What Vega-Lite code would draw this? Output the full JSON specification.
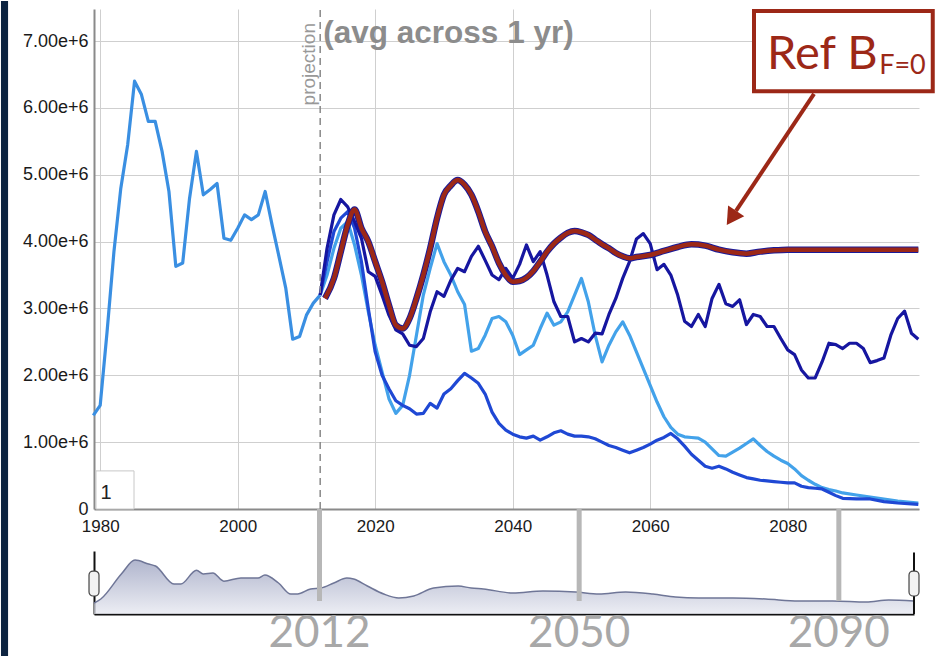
{
  "$schema": "https://vega.github.io/schema/vega-lite/v6.json",
  "padding": {"left": 0, "top": 0, "right": 0, "bottom": 0},
  "background": "white",
  "bounds": "flush",
  "spacing": 42,
  "config": {"view": {"stroke": null}, "font": "Liberation Sans"},
  "datasets": {
    "one": [{}],
    "proj": [
      {"s":"1hist","yr":1979,"v":1.40},{"s":"1hist","yr":1980,"v":1.55},{"s":"1hist","yr":1981,"v":2.65},{"s":"1hist","yr":1982,"v":3.85},{"s":"1hist","yr":1983,"v":4.8},{"s":"1hist","yr":1984,"v":5.45},{"s":"1hist","yr":1985,"v":6.4},{"s":"1hist","yr":1986,"v":6.2},{"s":"1hist","yr":1987,"v":5.8},{"s":"1hist","yr":1988,"v":5.8},{"s":"1hist","yr":1989,"v":5.35},{"s":"1hist","yr":1990,"v":4.75},{"s":"1hist","yr":1991,"v":3.63},{"s":"1hist","yr":1992,"v":3.68},{"s":"1hist","yr":1993,"v":4.65},{"s":"1hist","yr":1994,"v":5.35},{"s":"1hist","yr":1995,"v":4.7},{"s":"1hist","yr":1996,"v":4.78},{"s":"1hist","yr":1997,"v":4.87},{"s":"1hist","yr":1998,"v":4.05},{"s":"1hist","yr":1999,"v":4.02},{"s":"1hist","yr":2000,"v":4.2},{"s":"1hist","yr":2001,"v":4.4},{"s":"1hist","yr":2002,"v":4.33},{"s":"1hist","yr":2003,"v":4.4},{"s":"1hist","yr":2004,"v":4.75},{"s":"1hist","yr":2005,"v":4.25},{"s":"1hist","yr":2006,"v":3.78},{"s":"1hist","yr":2007,"v":3.3},{"s":"1hist","yr":2008,"v":2.54},{"s":"1hist","yr":2009,"v":2.58},{"s":"1hist","yr":2010,"v":2.9},{"s":"1hist","yr":2011,"v":3.08},{"s":"1hist","yr":2012,"v":3.2},

      {"s":"2light","yr":2012,"v":3.2},{"s":"2light","yr":2013,"v":3.5},{"s":"2light","yr":2014,"v":3.9},{"s":"2light","yr":2015,"v":4.2},{"s":"2light","yr":2016,"v":4.3},{"s":"2light","yr":2017,"v":3.95},{"s":"2light","yr":2018,"v":3.5},{"s":"2light","yr":2019,"v":2.95},{"s":"2light","yr":2020,"v":2.45},{"s":"2light","yr":2021,"v":2.05},{"s":"2light","yr":2022,"v":1.65},{"s":"2light","yr":2023,"v":1.43},{"s":"2light","yr":2024,"v":1.55},{"s":"2light","yr":2025,"v":2.0},{"s":"2light","yr":2026,"v":2.6},{"s":"2light","yr":2027,"v":3.2},{"s":"2light","yr":2028,"v":3.6},{"s":"2light","yr":2029,"v":3.97},{"s":"2light","yr":2030,"v":3.7},{"s":"2light","yr":2031,"v":3.5},{"s":"2light","yr":2032,"v":3.25},{"s":"2light","yr":2033,"v":3.06},{"s":"2light","yr":2034,"v":2.36},{"s":"2light","yr":2035,"v":2.4},{"s":"2light","yr":2036,"v":2.6},{"s":"2light","yr":2037,"v":2.85},{"s":"2light","yr":2038,"v":2.88},{"s":"2light","yr":2039,"v":2.8},{"s":"2light","yr":2040,"v":2.6},{"s":"2light","yr":2041,"v":2.31},{"s":"2light","yr":2042,"v":2.38},{"s":"2light","yr":2043,"v":2.45},{"s":"2light","yr":2044,"v":2.7},{"s":"2light","yr":2045,"v":2.93},{"s":"2light","yr":2046,"v":2.75},{"s":"2light","yr":2047,"v":2.8},{"s":"2light","yr":2048,"v":2.95},{"s":"2light","yr":2049,"v":3.2},{"s":"2light","yr":2050,"v":3.45},{"s":"2light","yr":2051,"v":3.1},{"s":"2light","yr":2052,"v":2.6},{"s":"2light","yr":2053,"v":2.2},{"s":"2light","yr":2054,"v":2.45},{"s":"2light","yr":2055,"v":2.65},{"s":"2light","yr":2056,"v":2.8},{"s":"2light","yr":2057,"v":2.6},{"s":"2light","yr":2058,"v":2.35},{"s":"2light","yr":2059,"v":2.1},{"s":"2light","yr":2060,"v":1.85},{"s":"2light","yr":2061,"v":1.6},{"s":"2light","yr":2062,"v":1.38},{"s":"2light","yr":2063,"v":1.22},{"s":"2light","yr":2064,"v":1.12},{"s":"2light","yr":2065,"v":1.08},{"s":"2light","yr":2066,"v":1.07},{"s":"2light","yr":2067,"v":1.06},{"s":"2light","yr":2068,"v":1.0},{"s":"2light","yr":2069,"v":0.9},{"s":"2light","yr":2070,"v":0.8},{"s":"2light","yr":2071,"v":0.79},{"s":"2light","yr":2072,"v":0.85},{"s":"2light","yr":2073,"v":0.91},{"s":"2light","yr":2074,"v":0.98},{"s":"2light","yr":2075,"v":1.05},{"s":"2light","yr":2076,"v":0.95},{"s":"2light","yr":2077,"v":0.86},{"s":"2light","yr":2078,"v":0.79},{"s":"2light","yr":2079,"v":0.73},{"s":"2light","yr":2080,"v":0.68},{"s":"2light","yr":2081,"v":0.6},{"s":"2light","yr":2082,"v":0.5},{"s":"2light","yr":2083,"v":0.43},{"s":"2light","yr":2084,"v":0.37},{"s":"2light","yr":2085,"v":0.32},{"s":"2light","yr":2086,"v":0.29},{"s":"2light","yr":2087,"v":0.27},{"s":"2light","yr":2088,"v":0.24},{"s":"2light","yr":2090,"v":0.21},{"s":"2light","yr":2092,"v":0.18},{"s":"2light","yr":2094,"v":0.15},{"s":"2light","yr":2096,"v":0.12},{"s":"2light","yr":2099,"v":0.09},

      {"s":"3med","yr":2012,"v":3.2},{"s":"3med","yr":2013,"v":3.7},{"s":"3med","yr":2014,"v":4.15},{"s":"3med","yr":2015,"v":4.35},{"s":"3med","yr":2016,"v":4.45},{"s":"3med","yr":2017,"v":4.2},{"s":"3med","yr":2018,"v":3.7},{"s":"3med","yr":2019,"v":3.0},{"s":"3med","yr":2020,"v":2.35},{"s":"3med","yr":2021,"v":2.0},{"s":"3med","yr":2022,"v":1.8},{"s":"3med","yr":2023,"v":1.62},{"s":"3med","yr":2024,"v":1.55},{"s":"3med","yr":2025,"v":1.5},{"s":"3med","yr":2026,"v":1.42},{"s":"3med","yr":2027,"v":1.43},{"s":"3med","yr":2028,"v":1.58},{"s":"3med","yr":2029,"v":1.51},{"s":"3med","yr":2030,"v":1.72},{"s":"3med","yr":2031,"v":1.8},{"s":"3med","yr":2032,"v":1.92},{"s":"3med","yr":2033,"v":2.03},{"s":"3med","yr":2034,"v":1.96},{"s":"3med","yr":2035,"v":1.88},{"s":"3med","yr":2036,"v":1.72},{"s":"3med","yr":2037,"v":1.45},{"s":"3med","yr":2038,"v":1.28},{"s":"3med","yr":2039,"v":1.18},{"s":"3med","yr":2040,"v":1.12},{"s":"3med","yr":2041,"v":1.08},{"s":"3med","yr":2042,"v":1.06},{"s":"3med","yr":2043,"v":1.09},{"s":"3med","yr":2044,"v":1.03},{"s":"3med","yr":2045,"v":1.08},{"s":"3med","yr":2046,"v":1.14},{"s":"3med","yr":2047,"v":1.17},{"s":"3med","yr":2048,"v":1.12},{"s":"3med","yr":2049,"v":1.09},{"s":"3med","yr":2050,"v":1.09},{"s":"3med","yr":2051,"v":1.08},{"s":"3med","yr":2052,"v":1.05},{"s":"3med","yr":2053,"v":1.0},{"s":"3med","yr":2054,"v":0.95},{"s":"3med","yr":2055,"v":0.92},{"s":"3med","yr":2056,"v":0.88},{"s":"3med","yr":2057,"v":0.84},{"s":"3med","yr":2058,"v":0.88},{"s":"3med","yr":2059,"v":0.92},{"s":"3med","yr":2060,"v":0.97},{"s":"3med","yr":2061,"v":1.03},{"s":"3med","yr":2062,"v":1.07},{"s":"3med","yr":2063,"v":1.13},{"s":"3med","yr":2064,"v":1.05},{"s":"3med","yr":2065,"v":0.94},{"s":"3med","yr":2066,"v":0.82},{"s":"3med","yr":2067,"v":0.73},{"s":"3med","yr":2068,"v":0.64},{"s":"3med","yr":2069,"v":0.61},{"s":"3med","yr":2070,"v":0.64},{"s":"3med","yr":2071,"v":0.6},{"s":"3med","yr":2072,"v":0.55},{"s":"3med","yr":2073,"v":0.51},{"s":"3med","yr":2074,"v":0.47},{"s":"3med","yr":2075,"v":0.45},{"s":"3med","yr":2076,"v":0.43},{"s":"3med","yr":2077,"v":0.42},{"s":"3med","yr":2078,"v":0.41},{"s":"3med","yr":2079,"v":0.4},{"s":"3med","yr":2080,"v":0.39},{"s":"3med","yr":2081,"v":0.39},{"s":"3med","yr":2082,"v":0.34},{"s":"3med","yr":2083,"v":0.32},{"s":"3med","yr":2084,"v":0.31},{"s":"3med","yr":2085,"v":0.3},{"s":"3med","yr":2086,"v":0.25},{"s":"3med","yr":2087,"v":0.2},{"s":"3med","yr":2088,"v":0.16},{"s":"3med","yr":2090,"v":0.15},{"s":"3med","yr":2092,"v":0.15},{"s":"3med","yr":2094,"v":0.11},{"s":"3med","yr":2096,"v":0.09},{"s":"3med","yr":2099,"v":0.07},

      {"s":"4navy","yr":2012,"v":3.2},{"s":"4navy","yr":2013,"v":3.9},{"s":"4navy","yr":2014,"v":4.4},{"s":"4navy","yr":2015,"v":4.63},{"s":"4navy","yr":2016,"v":4.52},{"s":"4navy","yr":2017,"v":4.3},{"s":"4navy","yr":2018,"v":4.05},{"s":"4navy","yr":2019,"v":3.55},{"s":"4navy","yr":2020,"v":3.48},{"s":"4navy","yr":2021,"v":3.2},{"s":"4navy","yr":2022,"v":2.9},{"s":"4navy","yr":2023,"v":2.68},{"s":"4navy","yr":2024,"v":2.62},{"s":"4navy","yr":2025,"v":2.45},{"s":"4navy","yr":2026,"v":2.43},{"s":"4navy","yr":2027,"v":2.55},{"s":"4navy","yr":2028,"v":2.95},{"s":"4navy","yr":2029,"v":3.25},{"s":"4navy","yr":2030,"v":3.18},{"s":"4navy","yr":2031,"v":3.42},{"s":"4navy","yr":2032,"v":3.6},{"s":"4navy","yr":2033,"v":3.55},{"s":"4navy","yr":2034,"v":3.78},{"s":"4navy","yr":2035,"v":3.93},{"s":"4navy","yr":2036,"v":3.72},{"s":"4navy","yr":2037,"v":3.5},{"s":"4navy","yr":2038,"v":3.43},{"s":"4navy","yr":2039,"v":3.6},{"s":"4navy","yr":2040,"v":3.45},{"s":"4navy","yr":2041,"v":3.66},{"s":"4navy","yr":2042,"v":3.95},{"s":"4navy","yr":2043,"v":3.7},{"s":"4navy","yr":2044,"v":3.85},{"s":"4navy","yr":2045,"v":3.5},{"s":"4navy","yr":2046,"v":3.1},{"s":"4navy","yr":2047,"v":2.88},{"s":"4navy","yr":2048,"v":2.88},{"s":"4navy","yr":2049,"v":2.5},{"s":"4navy","yr":2050,"v":2.55},{"s":"4navy","yr":2051,"v":2.5},{"s":"4navy","yr":2052,"v":2.63},{"s":"4navy","yr":2053,"v":2.62},{"s":"4navy","yr":2054,"v":2.91},{"s":"4navy","yr":2055,"v":3.15},{"s":"4navy","yr":2056,"v":3.45},{"s":"4navy","yr":2057,"v":3.7},{"s":"4navy","yr":2058,"v":4.04},{"s":"4navy","yr":2059,"v":4.12},{"s":"4navy","yr":2060,"v":3.97},{"s":"4navy","yr":2061,"v":3.58},{"s":"4navy","yr":2062,"v":3.66},{"s":"4navy","yr":2063,"v":3.5},{"s":"4navy","yr":2064,"v":3.2},{"s":"4navy","yr":2065,"v":2.81},{"s":"4navy","yr":2066,"v":2.73},{"s":"4navy","yr":2067,"v":2.91},{"s":"4navy","yr":2068,"v":2.73},{"s":"4navy","yr":2069,"v":3.15},{"s":"4navy","yr":2070,"v":3.36},{"s":"4navy","yr":2071,"v":3.07},{"s":"4navy","yr":2072,"v":3.03},{"s":"4navy","yr":2073,"v":3.13},{"s":"4navy","yr":2074,"v":2.76},{"s":"4navy","yr":2075,"v":2.91},{"s":"4navy","yr":2076,"v":2.88},{"s":"4navy","yr":2077,"v":2.73},{"s":"4navy","yr":2078,"v":2.73},{"s":"4navy","yr":2079,"v":2.55},{"s":"4navy","yr":2080,"v":2.38},{"s":"4navy","yr":2081,"v":2.31},{"s":"4navy","yr":2082,"v":2.08},{"s":"4navy","yr":2083,"v":1.96},{"s":"4navy","yr":2084,"v":1.96},{"s":"4navy","yr":2085,"v":2.2},{"s":"4navy","yr":2086,"v":2.48},{"s":"4navy","yr":2087,"v":2.46},{"s":"4navy","yr":2088,"v":2.4},{"s":"4navy","yr":2089,"v":2.48},{"s":"4navy","yr":2090,"v":2.48},{"s":"4navy","yr":2091,"v":2.4},{"s":"4navy","yr":2092,"v":2.19},{"s":"4navy","yr":2093,"v":2.22},{"s":"4navy","yr":2094,"v":2.26},{"s":"4navy","yr":2095,"v":2.6},{"s":"4navy","yr":2096,"v":2.85},{"s":"4navy","yr":2097,"v":2.96},{"s":"4navy","yr":2098,"v":2.63},{"s":"4navy","yr":2099,"v":2.54}
    ],
    "ref": [
      {"yr":2012.7,"v":3.15},{"yr":2014,"v":3.45},{"yr":2015,"v":3.85},{"yr":2016,"v":4.25},{"yr":2017,"v":4.48},{"yr":2018,"v":4.2},{"yr":2019,"v":4.0},{"yr":2020,"v":3.7},{"yr":2021,"v":3.4},{"yr":2022,"v":3.05},{"yr":2023,"v":2.75},{"yr":2024,"v":2.7},{"yr":2025,"v":2.85},{"yr":2026,"v":3.15},{"yr":2027,"v":3.5},{"yr":2028,"v":3.9},{"yr":2029,"v":4.35},{"yr":2030,"v":4.7},{"yr":2031,"v":4.84},{"yr":2032,"v":4.92},{"yr":2033,"v":4.85},{"yr":2034,"v":4.7},{"yr":2035,"v":4.45},{"yr":2036,"v":4.15},{"yr":2037,"v":3.93},{"yr":2038,"v":3.68},{"yr":2039,"v":3.5},{"yr":2040,"v":3.4},{"yr":2041,"v":3.41},{"yr":2042,"v":3.46},{"yr":2043,"v":3.56},{"yr":2044,"v":3.7},{"yr":2045,"v":3.85},{"yr":2046,"v":3.97},{"yr":2047,"v":4.06},{"yr":2048,"v":4.13},{"yr":2049,"v":4.16},{"yr":2050,"v":4.14},{"yr":2051,"v":4.1},{"yr":2052,"v":4.03},{"yr":2053,"v":3.96},{"yr":2054,"v":3.9},{"yr":2055,"v":3.83},{"yr":2056,"v":3.78},{"yr":2057,"v":3.75},{"yr":2058,"v":3.77},{"yr":2060,"v":3.8},{"yr":2062,"v":3.86},{"yr":2064,"v":3.92},{"yr":2066,"v":3.96},{"yr":2068,"v":3.94},{"yr":2070,"v":3.88},{"yr":2072,"v":3.84},{"yr":2074,"v":3.82},{"yr":2076,"v":3.85},{"yr":2078,"v":3.87},{"yr":2080,"v":3.88},{"yr":2085,"v":3.88},{"yr":2090,"v":3.88},{"yr":2095,"v":3.88},{"yr":2099,"v":3.88}
    ],
    "ov": [
      {"yr":1979,"v":1.3},{"yr":1980,"v":1.78},{"yr":1983,"v":4.75},{"yr":1985,"v":6.4},{"yr":1987,"v":5.93},{"yr":1988,"v":5.7},{"yr":1990.7,"v":3.56},{"yr":1991.7,"v":3.56},{"yr":1994,"v":5.2},{"yr":1995,"v":4.75},{"yr":1996.4,"v":4.86},{"yr":1998,"v":3.9},{"yr":2000.5,"v":4.27},{"yr":2003,"v":4.27},{"yr":2004,"v":4.63},{"yr":2006,"v":3.68},{"yr":2007.8,"v":2.37},{"yr":2008.8,"v":2.37},{"yr":2010.7,"v":2.97},{"yr":2012.2,"v":3.08},{"yr":2014.1,"v":3.68},{"yr":2016,"v":4.27},{"yr":2017,"v":4.15},{"yr":2019,"v":3.32},{"yr":2021.4,"v":2.37},{"yr":2023.6,"v":1.9},{"yr":2025.8,"v":2.14},{"yr":2028.7,"v":3.08},{"yr":2032.3,"v":3.32},{"yr":2034.2,"v":3.08},{"yr":2036,"v":2.97},{"yr":2040.3,"v":2.49},{"yr":2044.7,"v":2.73},{"yr":2049.5,"v":2.61},{"yr":2052.9,"v":2.37},{"yr":2056.8,"v":2.61},{"yr":2060.8,"v":2.37},{"yr":2064.1,"v":2.02},{"yr":2067.5,"v":1.9},{"yr":2072.5,"v":1.9},{"yr":2077.3,"v":1.78},{"yr":2082.1,"v":1.54},{"yr":2087.1,"v":1.54},{"yr":2092,"v":1.42},{"yr":2095.3,"v":1.66},{"yr":2099,"v":1.54}
    ],
    "bars": [
      {"yr":2012,"label":"2012"},{"yr":2050,"label":"2050"},{"yr":2088,"label":"2090"}
    ]
  },
  "vconcat": [
    {
      "width": 825,
      "height": 500,
      "layer": [
        {
          "data": {"name": "one"},
          "mark": {"type": "rect", "color": "#0c2340"},
          "encoding": {"x": {"datum": 1965.57, "type": "quantitative"}, "x2": {"datum": 1966.6}, "y": {"datum": 7.6, "type": "quantitative"}, "y2": {"datum": -2.22}}
        },
        {
          "data": {"name": "proj"},
          "mark": {"type": "line", "strokeWidth": 3.2, "strokeJoin": "round"},
          "encoding": {
            "x": {"field": "yr", "type": "quantitative",
              "scale": {"domain": [1979.1, 2099.1], "nice": false, "zero": false},
              "axis": {"title": null, "values": [1980, 2000, 2020, 2040, 2060, 2080], "format": "d", "grid": true, "gridColor": "#cfcfcf", "gridWidth": 1, "ticks": false, "domainColor": "#8a8a8a", "domainWidth": 2, "labelFontSize": 17, "labelColor": "#1a1a1a", "labelPadding": 9, "labelFlush": false, "labelFont": "Liberation Sans"}},
            "y": {"field": "v", "type": "quantitative",
              "scale": {"domain": [0, 7.48], "nice": false, "zero": false},
              "axis": {"title": null, "values": [0, 1, 2, 3, 4, 5, 6, 7], "labelExpr": "datum.value == 0 ? '0' : format(datum.value * 1000000, '.2e')", "grid": true, "gridColor": "#cfcfcf", "gridWidth": 1, "ticks": false, "domainColor": "#8a8a8a", "domainWidth": 2, "labelFontSize": 18, "labelColor": "#1a1a1a", "labelPadding": 6, "labelFlush": false, "labelFont": "Liberation Sans"}},
            "color": {"field": "s", "type": "nominal",
              "scale": {"domain": ["1hist", "2light", "3med", "4navy"], "range": ["#3a8fe2", "#43a2ea", "#1f48d4", "#1616a0"]},
              "legend": null}
          }
        },
        {
          "data": {"name": "ref"},
          "mark": {"type": "line", "strokeWidth": 6.5, "color": "#1a1a9a", "interpolate": "monotone"},
          "encoding": {"x": {"field": "yr", "type": "quantitative"}, "y": {"field": "v", "type": "quantitative"}}
        },
        {
          "data": {"name": "ref"},
          "mark": {"type": "line", "strokeWidth": 4.5, "color": "#9c2817", "interpolate": "monotone"},
          "encoding": {"x": {"field": "yr", "type": "quantitative"}, "y": {"field": "v", "type": "quantitative"}}
        },
        {
          "data": {"name": "one"},
          "mark": {"type": "rule", "strokeDash": [7, 5], "color": "#888888", "strokeWidth": 1.5},
          "encoding": {"x": {"datum": 2012, "type": "quantitative"}, "y": {"datum": 0, "type": "quantitative"}, "y2": {"datum": 7.48}}
        },
        {
          "data": {"name": "one"},
          "mark": {"type": "text", "text": "projection", "angle": 270, "align": "right", "baseline": "middle", "fontSize": 19, "color": "#999999"},
          "encoding": {"x": {"datum": 2010.3, "type": "quantitative"}, "y": {"datum": 7.27, "type": "quantitative"}}
        },
        {
          "data": {"name": "one"},
          "mark": {"type": "text", "text": "(avg across 1 yr)", "align": "left", "baseline": "middle", "fontSize": 31.5, "fontWeight": "bold", "color": "#8c8c8c"},
          "encoding": {"x": {"datum": 2012.45, "type": "quantitative"}, "y": {"datum": 7.1, "type": "quantitative"}}
        },
        {
          "data": {"name": "one"},
          "mark": {"type": "rect", "fill": "white", "stroke": "#c8c8c8", "strokeWidth": 1},
          "encoding": {"x": {"datum": 1979.39, "type": "quantitative"}, "x2": {"datum": 1984.92}, "y": {"datum": 0, "type": "quantitative"}, "y2": {"datum": 0.57}}
        },
        {
          "data": {"name": "one"},
          "mark": {"type": "text", "text": "1", "align": "center", "baseline": "middle", "fontSize": 20, "color": "#222222"},
          "encoding": {"x": {"datum": 1980.85, "type": "quantitative"}, "y": {"datum": 0.24, "type": "quantitative"}}
        },
        {
          "data": {"name": "one"},
          "mark": {"type": "rule", "color": "#9c2817", "strokeWidth": 4},
          "encoding": {"x": {"datum": 2083.83, "type": "quantitative"}, "x2": {"datum": 2072.48}, "y": {"datum": 6.21, "type": "quantitative"}, "y2": {"datum": 4.46}}
        },
        {
          "data": {"name": "one"},
          "mark": {"type": "point", "shape": "triangle", "angle": 214, "size": 380, "filled": true, "color": "#9c2817", "opacity": 1},
          "encoding": {"x": {"datum": 2072.05, "type": "quantitative"}, "y": {"datum": 4.39, "type": "quantitative"}}
        },
        {
          "data": {"name": "one"},
          "mark": {"type": "rect", "fill": "white", "stroke": "#9c2817", "strokeWidth": 4},
          "encoding": {"x": {"datum": 2075.1, "type": "quantitative"}, "x2": {"datum": 2101.1}, "y": {"datum": 6.25, "type": "quantitative"}, "y2": {"datum": 7.45}}
        },
        {
          "data": {"name": "one"},
          "mark": {"type": "text", "text": "Ref B", "align": "left", "baseline": "alphabetic", "font": "Lato", "fontSize": 47, "color": "#9c2817"},
          "encoding": {"x": {"datum": 2077.0, "type": "quantitative"}, "y": {"datum": 6.58, "type": "quantitative"}}
        },
        {
          "data": {"name": "one"},
          "mark": {"type": "text", "text": "F=0", "align": "left", "baseline": "alphabetic", "font": "Lato", "fontSize": 27, "color": "#9c2817"},
          "encoding": {"x": {"datum": 2093.3, "type": "quantitative"}, "y": {"datum": 6.51, "type": "quantitative"}}
        }
      ]
    },
    {
      "width": 820,
      "height": 63,
      "layer": [
        {
          "data": {"name": "ov"},
          "mark": {"type": "area", "interpolate": "monotone", "line": {"color": "#6f7697", "strokeWidth": 1.5},
            "color": {"x1": 1, "y1": 1, "x2": 1, "y2": 0, "gradient": "linear", "stops": [{"offset": 0, "color": "#e4e6ef"}, {"offset": 1, "color": "#8f96b8"}]}},
          "encoding": {
            "x": {"field": "yr", "type": "quantitative", "scale": {"domain": [1979, 2099], "nice": false, "zero": false},
              "axis": {"title": null, "labels": false, "ticks": false, "grid": false, "domainColor": "#111111", "domainWidth": 2}},
            "y": {"field": "v", "type": "quantitative", "scale": {"domain": [0, 7.48], "nice": false, "zero": false},
              "axis": {"title": null, "labels": false, "ticks": false, "grid": false, "domainColor": "#111111", "domainWidth": 2}}
          }
        },
        {
          "data": {"name": "one"},
          "mark": {"type": "rule", "color": "#111111", "strokeWidth": 2},
          "encoding": {"x": {"datum": 2099, "type": "quantitative"}, "y": {"datum": 0, "type": "quantitative"}, "y2": {"datum": 7.3}}
        },
        {
          "data": {"name": "bars"},
          "mark": {"type": "rule", "color": "#b7b7b7", "strokeWidth": 5},
          "encoding": {"x": {"field": "yr", "type": "quantitative"}, "y": {"datum": 1.54, "type": "quantitative"}, "y2": {"datum": 12.47}}
        },
        {
          "data": {"name": "bars"},
          "mark": {"type": "text", "font": "Lato", "fontSize": 44, "color": "#a8a8a8", "baseline": "middle", "align": "center", "dy": 20},
          "encoding": {"x": {"field": "yr", "type": "quantitative"}, "y": {"datum": 0, "type": "quantitative"}, "text": {"field": "label"}}
        },
        {
          "data": {"name": "one"},
          "mark": {"type": "rect", "fill": "#f2f2f2", "stroke": "#444444", "strokeWidth": 1.2, "cornerRadius": 4},
          "encoding": {"x": {"datum": 1978.27, "type": "quantitative"}, "x2": {"datum": 1979.73}, "y": {"datum": 2.14, "type": "quantitative"}, "y2": {"datum": 5.1}}
        },
        {
          "data": {"name": "one"},
          "mark": {"type": "rect", "fill": "#f2f2f2", "stroke": "#444444", "strokeWidth": 1.2, "cornerRadius": 4},
          "encoding": {"x": {"datum": 2098.27, "type": "quantitative"}, "x2": {"datum": 2099.73}, "y": {"datum": 2.14, "type": "quantitative"}, "y2": {"datum": 5.1}}
        }
      ]
    }
  ]
}
